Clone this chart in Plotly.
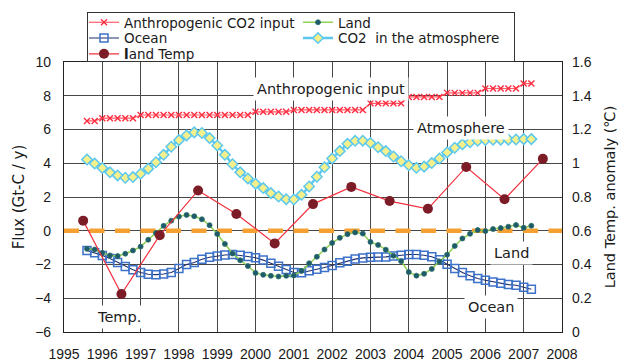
import plotly.graph_objects as go

# ---- data -----------------------------------------------------------------
# smoothed flux series, sampled every 0.2 yr from 1995.6 to 2007.2
flux_years = [round(1995.6 + 0.2 * k, 1) for k in range(59)]

anthropogenic = [
    6.51, 6.51,
    6.67, 6.67, 6.67, 6.67, 6.67,
    6.86, 6.86, 6.86, 6.86, 6.86, 6.86, 6.86, 6.86, 6.86, 6.86,
    6.86, 6.86, 6.86, 6.86, 6.86,
    7.05, 7.05, 7.05, 7.05, 7.05,
    7.16, 7.16, 7.16, 7.16, 7.16, 7.16, 7.16, 7.16, 7.16, 7.16,
    7.55, 7.55, 7.55, 7.55, 7.55,
    7.93, 7.93, 7.93, 7.93, 7.93,
    8.17, 8.17, 8.17, 8.17, 8.17,
    8.43, 8.43, 8.43, 8.43, 8.43,
    8.72, 8.72,
]

ocean = [
    -1.17, -1.30, -1.46, -1.65, -1.88, -2.12, -2.31, -2.47, -2.58, -2.60,
    -2.56, -2.47, -2.23, -2.00, -1.88, -1.69, -1.57, -1.50, -1.44, -1.41,
    -1.45, -1.53, -1.60, -1.74, -1.93, -2.10, -2.30, -2.47, -2.49, -2.37,
    -2.28, -2.18, -2.06, -1.90, -1.80, -1.68, -1.61, -1.57, -1.56, -1.55,
    -1.50, -1.45, -1.41, -1.41, -1.45, -1.54, -1.72, -1.98, -2.24, -2.48,
    -2.67, -2.83, -2.93, -3.03, -3.11, -3.19, -3.23, -3.35, -3.47,
]

land = [
    -1.07, -1.11, -1.31, -1.46, -1.50, -1.36, -1.17, -0.94, -0.53, -0.14,
    0.29, 0.60, 0.84, 0.94, 0.86, 0.68, 0.33, -0.19, -0.78, -1.35,
    -1.75, -2.09, -2.50, -2.61, -2.67, -2.71, -2.67, -2.65, -2.38, -1.93,
    -1.54, -1.11, -0.72, -0.42, -0.20, -0.10, -0.17, -0.66, -0.84, -1.12,
    -1.48, -1.80, -2.45, -2.66, -2.55, -2.26, -1.82, -1.42, -0.90, -0.46,
    -0.18, 0.04, -0.02, 0.10, 0.16, 0.24, 0.34, 0.18, 0.30,
]

atmosphere = [
    4.22, 3.98, 3.72, 3.46, 3.28, 3.14, 3.18, 3.38, 3.68, 4.06,
    4.50, 4.98, 5.37, 5.65, 5.83, 5.79, 5.49, 5.05, 4.50, 3.94,
    3.46, 3.10, 2.79, 2.53, 2.23, 2.03, 1.87, 1.85, 2.13, 2.62,
    3.20, 3.76, 4.28, 4.72, 5.15, 5.33, 5.34, 5.20, 4.95, 4.72,
    4.40, 4.12, 3.88, 3.73, 3.80, 4.01, 4.28, 4.64, 4.92, 5.12,
    5.24, 5.33, 5.38, 5.39, 5.40, 5.40, 5.41, 5.43, 5.43,
]

# annual land temperature anomaly (right axis)
temp_years = [1995.5, 1996.5, 1997.5, 1998.5, 1999.5, 2000.5, 2001.5,
              2002.5, 2003.5, 2004.5, 2005.5, 2006.5, 2007.5]
land_temp = [0.66, 0.225, 0.573, 0.839, 0.699, 0.525, 0.758,
             0.86, 0.776, 0.73, 0.978, 0.787, 1.026]

zero_line_x = [1995, 2008]
zero_line_y = [0, 0]

year_ticks = list(range(1995, 2009))

# ---- styling --------------------------------------------------------------
TEXT_FONT = "DejaVu Sans, Verdana, sans-serif"
TICK_FONT = "Liberation Sans, Arial, sans-serif"
TXT = "#1a1a1a"

fig = go.Figure()

fig.add_trace(go.Scatter(
    x=zero_line_x, y=zero_line_y, mode="lines",
    line=dict(color="#f5a032", width=4.5, dash="15px,10.5px"),
    showlegend=False, hoverinfo="skip",
))

fig.add_trace(go.Scatter(
    x=flux_years, y=anthropogenic, mode="lines+markers",
    name="Anthropogenic CO2 input",
    line=dict(color="#ff5a68", width=1.2),
    marker=dict(symbol="x-thin", size=6, color="#ff2d40",
                line=dict(color="#ff2d40", width=1.4)),
    legend="legend",
))

fig.add_trace(go.Scatter(
    x=flux_years, y=ocean, mode="lines+markers",
    name="Ocean",
    line=dict(color="#1e2f6e", width=1.1),
    marker=dict(symbol="square-open", size=8, color="#3d72c9",
                line=dict(color="#3d72c9", width=1.5)),
    legend="legend2",
))

fig.add_trace(go.Scatter(
    x=flux_years, y=land, mode="lines+markers",
    name="Land",
    line=dict(color="#8fd150", width=1.5),
    marker=dict(symbol="circle", size=5, color="#1f5a6a",
                line=dict(color="#2b6e6a", width=0.8)),
    legend="legend4",
))

fig.add_trace(go.Scatter(
    x=flux_years, y=atmosphere, mode="lines+markers",
    name="CO2  in the atmosphere",
    line=dict(color="#5cc8ef", width=2.5),
    marker=dict(symbol="diamond", size=8, color="#f5f08c",
                line=dict(color="#5cc8ef", width=1.5)),
    legend="legend5",
))

fig.add_trace(go.Scatter(
    x=temp_years, y=land_temp, mode="lines+markers",
    name="<b>l</b>and Temp", yaxis="y2",
    line=dict(color="#f2303e", width=1.2),
    marker=dict(symbol="circle", size=10, color="#7b1c26"),
    legend="legend3",
))

# ---- legend: five single-entry legends laid out in two columns -----------
PLOT_L, PLOT_W = 64, 498
PLOT_B, PLOT_H = 332, 270


def px_x(px):
    return (px - PLOT_L) / PLOT_W


def px_y(py):
    return (PLOT_B - py) / PLOT_H


def legend_at(px, py):
    return dict(
        x=px_x(px), y=px_y(py), xanchor="left", yanchor="middle",
        bgcolor="rgba(0,0,0,0)", borderwidth=0,
        font=dict(family=TEXT_FONT, size=13.5, color=TXT),
    )


col1, col2 = 84, 298
row1, row2, row3 = 22.5, 38.3, 54.0

fig.update_layout(
    legend=legend_at(col1, row1),
    legend2=legend_at(col1, row2),
    legend3=legend_at(col1, row3),
    legend4=legend_at(col2, row1),
    legend5=legend_at(col2, row2),
)

# frame around the legend block
frame_l, frame_r, frame_t, frame_b = 87, 515, 11.7, 61.5
fig.add_annotation(
    xref="paper", yref="paper",
    x=px_x((frame_l + frame_r) / 2), y=px_y((frame_t + frame_b) / 2),
    xanchor="center", yanchor="middle",
    text=" ", showarrow=False,
    width=frame_r - frame_l - 2, height=frame_b - frame_t - 2,
    borderpad=0, borderwidth=1, bordercolor="#333333",
    bgcolor="rgba(0,0,0,0)",
)

# ---- in-plot labels -------------------------------------------------------
labels = [
    ("Anthropogenic input", 2001.98, 8.40),
    ("Atmosphere", 2005.36, 6.09),
    ("Land", 2006.67, -1.32),
    ("Ocean", 2006.15, -4.52),
    ("Temp.", 1996.44, -5.11),
]
for text, lx, ly in labels:
    fig.add_annotation(
        x=lx, y=ly, xref="x", yref="y", text=text, showarrow=False,
        font=dict(family=TEXT_FONT, size=14.5, color=TXT),
        bgcolor="white", borderpad=3,
    )

# ---- axes -----------------------------------------------------------------
GRID = "#474747"
AXIS = "#222222"

fig.update_layout(
    width=630, height=363,
    margin=dict(l=64, r=68, t=62, b=31, autoexpand=False),
    paper_bgcolor="white", plot_bgcolor="white",
    font=dict(family=TICK_FONT, size=14, color=TXT),
    xaxis=dict(
        range=[1995, 2008], tickvals=year_ticks, ticks="",
        showgrid=True, gridcolor=GRID, gridwidth=1.3,
        showline=True, linecolor=AXIS, linewidth=1.2, mirror=True,
        zeroline=False, tickfont=dict(family=TICK_FONT, size=14),
        ticklabelstandoff=9,
    ),
    yaxis=dict(
        range=[-6, 10], dtick=2, ticks="",
        showgrid=True, gridcolor=GRID, gridwidth=1.3,
        showline=True, linecolor=AXIS, linewidth=1.2, mirror=True,
        zeroline=False, tickfont=dict(family=TICK_FONT, size=14),
        ticklabelstandoff=9,
        title=dict(text="Flux (Gt-C / y)", standoff=6,
                   font=dict(family=TEXT_FONT, size=15)),
    ),
    yaxis2=dict(
        range=[0, 1.6], dtick=0.2, ticks="", overlaying="y", side="right",
        showgrid=False, zeroline=False, showline=False,
        tickfont=dict(family=TICK_FONT, size=14), ticklabelstandoff=9,
        title=dict(text="Land Temp. anomaly (℃)", standoff=14,
                   font=dict(family=TEXT_FONT, size=14.5)),
    ),
)

fig.write_html("out.html")
